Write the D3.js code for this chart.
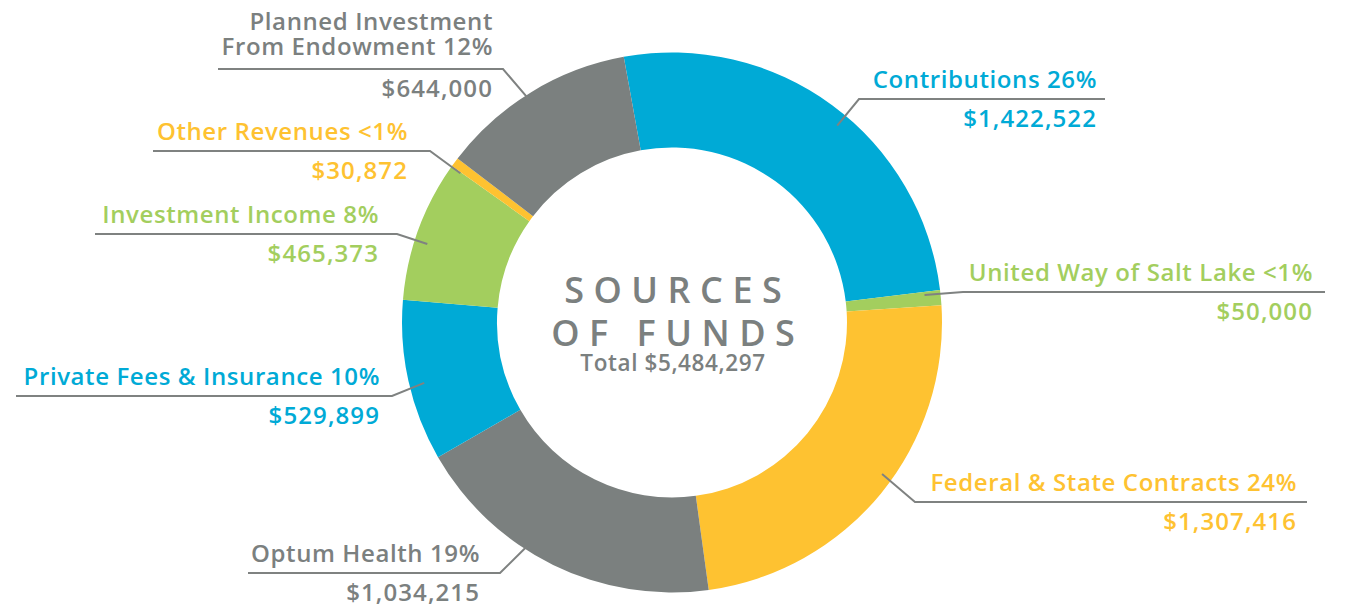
<!DOCTYPE html>
<html>
<head>
<meta charset="utf-8">
<script src="https://cdn.jsdelivr.net/npm/d3@7/dist/d3.min.js"></script>
<style>
  html, body { margin: 0; padding: 0; background: #ffffff; }
  svg { display: block; }
  text { font-family: "Open Sans", "Lato", sans-serif; font-weight: 600; }
</style>
</head>
<body>
<svg id="chart" width="1346" height="608"></svg>
<script>
// ---- DATA ----
const categories = [
  "Contributions",
  "United Way of Salt Lake",
  "Federal & State Contracts",
  "Optum Health",
  "Private Fees & Insurance",
  "Investment Income",
  "Other Revenues",
  "Planned Investment From Endowment"
];
const amounts = [1422522, 50000, 1307416, 1034215, 529899, 465373, 30872, 644000];
const percentLabels = ["26%", "<1%", "24%", "19%", "10%", "8%", "<1%", "12%"];
const labelLines = [
  ["Contributions 26%"],
  ["United Way of Salt Lake <1%"],
  ["Federal & State Contracts 24%"],
  ["Optum Health 19%"],
  ["Private Fees & Insurance 10%"],
  ["Investment Income 8%"],
  ["Other Revenues <1%"],
  ["Planned Investment", "From Endowment 12%"]
];
const colorKeys = ["blue", "green", "yellow", "gray", "blue", "green", "yellow", "gray"];
const titleLines = ["SOURCES", "OF FUNDS"];
const totalLabel = "Total $5,484,297";

// ---- STYLE / LAYOUT ----
const palette = { blue: "#00aad6", green: "#a3ce5e", yellow: "#fec231", gray: "#7b807f" };
const cx = 672, cy = 322.5, rOuter = 270, rInner = 175;
const startDeg = -10.3;
// leader layout: lineY, elbowX, farX, end angle (deg), end radius, text right x
const leaders = [
  { lineY: 99,  elbowX: 859, farX: 1105, ang: 40,    r: 257, tx: 1097 },
  { lineY: 292, elbowX: 963, farX: 1325, ang: 83.8,  r: 254, tx: 1313 },
  { lineY: 502, elbowX: 915, farX: 1307, ang: 125.8, r: 259, tx: 1297 },
  { lineY: 573, elbowX: 500, farX: 248,  ang: 213,   r: 268, tx: 480 },
  { lineY: 396, elbowX: 392, farX: 16,   ang: 256.3, r: 255, tx: 380 },
  { lineY: 234, elbowX: 397, farX: 95,   ang: 287.8, r: 257, tx: 379 },
  { lineY: 151, elbowX: 430, farX: 153,  ang: 305.2, r: 259, tx: 408 },
  { lineY: 69,  elbowX: 503, farX: 218,  ang: 327.3, r: 266, tx: 493 }
];
const labelSize = 24, lineGap = 25;

const data = categories.map((c, i) => ({ name: c, value: amounts[i], color: palette[colorKeys[i]], lines: labelLines[i], lay: leaders[i] }));
const fmt = d3.format("$,");

const svg = d3.select("#chart");
const g = svg.append("g").attr("transform", `translate(${cx},${cy})`);

const rad = Math.PI / 180;
const pie = d3.pie().sort(null).value(d => d.value)
  .startAngle(startDeg * rad).endAngle((startDeg + 360) * rad);
const arc = d3.arc().innerRadius(rInner).outerRadius(rOuter);

g.selectAll("path.slice").data(pie(data)).join("path")
  .attr("class", "slice")
  .attr("d", arc)
  .attr("fill", d => d.data.color);

// leader lines
const lineGen = d3.line();
svg.selectAll("path.leader").data(data).join("path")
  .attr("class", "leader")
  .attr("fill", "none")
  .attr("stroke", "#7f8281")
  .attr("stroke-width", 2)
  .attr("d", d => {
    const L = d.lay;
    const ex = cx + L.r * Math.sin(L.ang * rad);
    const ey = cy - L.r * Math.cos(L.ang * rad);
    return lineGen([[ex, ey], [L.elbowX, L.lineY], [L.farX, L.lineY]]);
  });

// labels
const lab = svg.selectAll("g.lab").data(data).join("g").attr("class", "lab");
lab.each(function(d) {
  const sel = d3.select(this);
  const L = d.lay;
  const n = d.lines.length;
  d.lines.forEach((t, k) => {
    sel.append("text")
      .attr("x", L.tx)
      .attr("y", L.lineY - (n > 1 ? 14 : 11) - (n - 1 - k) * lineGap)
      .attr("text-anchor", "end")
      .attr("fill", d.color)
      .attr("font-size", labelSize)
      .attr("letter-spacing", 0.6)
      .text(t);
  });
  sel.append("text")
    .attr("x", L.tx)
    .attr("y", L.lineY + 28)
    .attr("text-anchor", "end")
    .attr("fill", d.color)
    .attr("font-size", labelSize)
    .attr("font-weight", 700)
    .attr("letter-spacing", 1.1)
    .text(fmt(d.value));
});

// center title
const spacing = 9.5;
svg.selectAll("text.title").data(titleLines).join("text")
  .attr("class", "title")
  .attr("x", cx + 1 + spacing / 2)
  .attr("y", (d, i) => 303 + i * 43)
  .attr("text-anchor", "middle")
  .attr("fill", palette.gray)
  .attr("font-size", 36)
  .attr("letter-spacing", spacing)
  .text(d => d);
svg.append("text")
  .attr("x", cx + 1)
  .attr("y", 371)
  .attr("text-anchor", "middle")
  .attr("fill", palette.gray)
  .attr("font-size", 22.5)
  .attr("letter-spacing", 0.6)
  .text(totalLabel);
</script>
</body>
</html>
